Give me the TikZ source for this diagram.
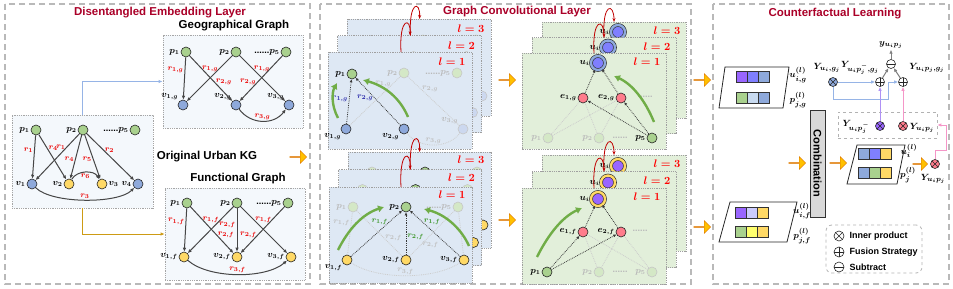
\documentclass[tikz,border=0pt]{standalone}
\usepackage{amsmath, amssymb}
\usepackage{fontspec}
\setmainfont{Liberation Sans}
\usetikzlibrary{positioning,arrows.meta,shapes.arrows}

\definecolor{titlered}{RGB}{170,0,40}
\definecolor{nodegreen}{RGB}{169,209,142}
\definecolor{nodeblue}{RGB}{142,169,219}
\definecolor{nodeyellow}{RGB}{255,217,102}
\definecolor{nodepink}{RGB}{255,124,140}
\definecolor{uipurple}{RGB}{153,102,255}
\definecolor{uiblue}{RGB}{127,127,255}
\definecolor{kgfill}{RGB}{244,248,252}
\definecolor{sheetblue}{RGB}{222,232,244}
\definecolor{sheetgreen}{RGB}{226,239,218}
\definecolor{arrowgold}{RGB}{255,192,0}
\definecolor{arrowgreen}{RGB}{112,173,71}
\definecolor{hopred}{RGB}{192,0,0}
\definecolor{labred}{RGB}{235,0,0}
\definecolor{labblue}{RGB}{40,40,170}
\definecolor{labgreen}{RGB}{60,150,40}
\definecolor{linkblue}{RGB}{150,180,230}
\definecolor{linkgold}{RGB}{205,155,20}
\definecolor{pinkline}{RGB}{245,150,200}
\definecolor{purpleline}{RGB}{175,145,245}
\definecolor{lavender}{RGB}{204,204,255}
\definecolor{paleblue}{RGB}{200,218,240}
\definecolor{paleyellow}{RGB}{255,255,110}

\newcommand{\embrow}[5]{\foreach \c [count=\i from 0] in {#3,#4,#5}
  \draw[cell, fill=\c] (#1+\i*11,#2) rectangle +(11,11);}

\tikzset{
  panel/.style={draw=gray!55, line width=1.3pt, dash pattern=on 6pt off 4pt},
  paneltitle/.style={font=\fontsize{11.5}{13}\selectfont\bfseries, text=titlered},
  subtitle/.style={font=\fontsize{11.5}{13}\selectfont\bfseries},
  kgbox/.style={draw=gray!70, densely dotted, line width=0.8pt, fill=kgfill},
  sheetb/.style={draw=gray!75, densely dotted, line width=0.8pt, fill=sheetblue},
  sheetg/.style={draw=gray!75, densely dotted, line width=0.8pt, fill=sheetgreen},
  vtx/.style={circle, draw=black!85, line width=0.6pt, minimum size=10pt, inner sep=0pt},
  gnode/.style={vtx, fill=nodegreen},
  bnode/.style={vtx, fill=nodeblue},
  ynode/.style={vtx, fill=nodeyellow},
  enode/.style={vtx, fill=nodepink},
  fgnode/.style={vtx, draw=gray!45, fill=nodegreen!50},
  fbnode/.style={vtx, draw=gray!45, fill=nodeblue!45},
  ugnode/.style={vtx, minimum size=14pt, fill=uiblue, double=nodeblue, double distance=2.4pt},
  ufnode/.style={vtx, minimum size=14pt, fill=uipurple, double=nodeyellow, double distance=2.4pt},
  lbl/.style={font=\fontsize{9}{10}\selectfont, inner sep=1pt},
  flbl/.style={lbl, text=gray!55},
  rlab/.style={font=\fontsize{8}{9}\selectfont, text=labred, inner sep=1pt},
  frlab/.style={rlab, text=gray!50},
  brlab/.style={rlab, text=labblue},
  grlab/.style={rlab, text=labgreen},
  lnum/.style={font=\fontsize{11}{12}\selectfont, text=red},
  kgedge/.style={draw=gray!55!black, line width=1pt, -{Latex[length=4pt,width=3.5pt]}},
  gcnedge/.style={draw=gray!45!black, densely dotted, line width=0.8pt, -{Latex[length=3pt,width=3pt]}},
  fgcnedge/.style={draw=gray!40, densely dotted, line width=0.8pt},
  flow/.style={arrowgreen, line width=2.4pt, -{Latex[length=6pt,width=7.5pt]}},
  hop/.style={hopred, line width=0.8pt, -{Stealth[length=4pt]}},
  blockarrow/.style={single arrow, draw=orange!85!black, fill=arrowgold, minimum height=17pt, minimum width=13pt, single arrow head extend=3pt, inner sep=0pt},
  opnode/.style={circle, draw=black!85, line width=0.6pt, minimum size=9pt, inner sep=0pt},
  otimesnode/.style={opnode, path picture={\draw[black!85, line width=0.5pt] (path picture bounding box.north west) -- (path picture bounding box.south east) (path picture bounding box.north east) -- (path picture bounding box.south west);}},
  oplusnode/.style={opnode, fill=white, path picture={\draw[black!85, line width=0.5pt] (path picture bounding box.north) -- (path picture bounding box.south) (path picture bounding box.east) -- (path picture bounding box.west);}},
  ominusnode/.style={opnode, fill=white, path picture={\draw[black!85, line width=0.5pt] (path picture bounding box.east) -- (path picture bounding box.west);}},
  cell/.style={draw=black!80, line width=0.6pt},
  embbox/.style={draw=black!85, line width=0.8pt, fill=white},
  combbox/.style={draw=black!80, fill=gray!30, line width=0.8pt, font=\fontsize{11}{12}\selectfont\bfseries},
  legendbox/.style={draw=gray!60, dashed, rounded corners=6pt, line width=0.8pt},
  cfbox/.style={draw=gray!60, dashed, line width=0.6pt},
  ylbl/.style={font=\fontsize{9.5}{10}\selectfont, inner sep=1pt},
  legtext/.style={font=\fontsize{9}{10}\selectfont\bfseries, inner sep=1pt},
  bluelink/.style={linkblue, line width=1pt, -{Latex[length=4pt,width=3.5pt]}},
  purplelink/.style={purpleline, line width=1pt, -{Latex[length=4pt,width=3.5pt]}},
  pinklink/.style={pinkline, line width=1pt, -{Latex[length=4pt,width=3.5pt]}},
  graylink/.style={gray, line width=1pt, -{Latex[length=4pt,width=3.5pt]}}
}

\begin{document}
\begin{tikzpicture}[x=1pt, y=-1pt]
  \useasboundingbox (0,0) rectangle (953,289);
  \draw[panel] (5,4) rectangle (310,284);
  \draw[panel] (320,4) rectangle (691,284);
  \draw[panel] (713,4) rectangle (949,284);

  % disentangled embedding layer
  \node[paneltitle] (ttl1) at (160,13) {Disentangled Embedding Layer};
  \node[subtitle] (ttlgeo) at (234,26) {Geographical Graph};
  \node[subtitle] (ttlkg) at (207,157) {Original Urban KG};
  \node[subtitle] (ttlfun) at (238,179) {Functional Graph};

  \node[kgbox, minimum width=141pt, minimum height=93pt] (kg) at (82.5,161.5) {};
  \node[kgbox, minimum width=140pt, minimum height=93pt] (geo) at (233,81.5) {};
  \node[kgbox, minimum width=140pt, minimum height=92pt] (fun) at (235,234) {};
  \draw[bluelink] (kg.north) |- (geo.west);
  \draw[linkgold, line width=1pt, -{Latex[length=4pt,width=3.5pt]}] (kg.south) |- (fun.west);

  \node[gnode, label={[lbl]left:$\boldsymbol{p_1}$}] (kp1) at (36,130) {};
  \node[gnode, label={[lbl]left:$\boldsymbol{p_2}$}] (kp2) at (83,130) {};
  \node[gnode, label={[lbl]left:{\textbf{......}$\boldsymbol{p_5}$}}] (kp5) at (135,130) {};
  \node[bnode, label={[lbl]left:$\boldsymbol{v_1}$}] (kv1) at (32,184) {};
  \node[ynode, label={[lbl]left:$\boldsymbol{v_2}$}] (kv2) at (69,184) {};
  \node[ynode, label={[lbl]right:$\boldsymbol{v_3}$}] (kv3) at (102,184) {};
  \node[bnode, label={[lbl]left:$\boldsymbol{v_4}$}] (kv4) at (138,184) {};
  \draw[kgedge] (kp1) -- node[rlab, pos=0.35, left] {$\boldsymbol{r_1}$} (kv1);
  \draw[kgedge] (kp1) -- node[rlab, pos=0.3, right] {$\boldsymbol{r_4}$} (kv2);
  \draw[kgedge] (kp2) -- node[rlab, pos=0.28, left] {$\boldsymbol{r_1}$} (kv1);
  \draw[kgedge] (kp2) -- node[rlab, pos=0.55, left] {$\boldsymbol{r_4}$} (kv2);
  \draw[kgedge] (kp2) -- node[rlab, pos=0.55, left] {$\boldsymbol{r_5}$} (kv3);
  \draw[kgedge] (kp2) -- node[rlab, pos=0.35, right] {$\boldsymbol{r_2}$} (kv4);
  \draw[kgedge] (kv2) .. controls +(8,-14) and +(-8,-14) .. node[rlab, below] {$\boldsymbol{r_6}$} (kv3);
  \draw[kgedge] (kv1) .. controls +(20,20) and +(-20,20) .. node[rlab, above] {$\boldsymbol{r_3}$} (kv4);

  \node[gnode, label={[lbl]left:$\boldsymbol{p_1}$}] (gp1) at (186,52) {};
  \node[gnode, label={[lbl]left:$\boldsymbol{p_2}$}] (gp2) at (236,52) {};
  \node[gnode, label={[lbl]left:{\textbf{......}$\boldsymbol{p_5}$}}] (gp5) at (286,52) {};
  \node[bnode, label={[lbl]above left:$\boldsymbol{v_{1,g}}$}] (gv1) at (183,105) {};
  \node[bnode, label={[lbl]above left:$\boldsymbol{v_{2,g}}$}] (gv2) at (236,105) {};
  \node[bnode, label={[lbl]above left:$\boldsymbol{v_{3,g}}$}] (gv3) at (289,105) {};
  \draw[kgedge] (gp1) -- node[rlab, pos=0.3, left] {$\boldsymbol{r_{1,g}}$} (gv1);
  \draw[kgedge] (gp1) -- node[rlab, pos=0.58, right] {$\boldsymbol{r_{2,g}}$} (gv2);
  \draw[kgedge] (gp2) -- node[rlab, pos=0.28, left] {$\boldsymbol{r_{1,g}}$} (gv1);
  \draw[kgedge] (gp2) -- node[rlab, pos=0.28, right] {$\boldsymbol{r_{1,g}}$} (gv3);
  \draw[kgedge] (gp5) -- node[rlab, pos=0.58, left] {$\boldsymbol{r_{2,g}}$} (gv2);
  \draw[kgedge] (gv2) .. controls +(15,20) and +(-15,20) .. node[rlab, above] {$\boldsymbol{r_{3,g}}$} (gv3);

  \node[gnode, label={[lbl]left:$\boldsymbol{p_1}$}] (fp1) at (187,203) {};
  \node[gnode, label={[lbl]left:$\boldsymbol{p_2}$}] (fp2) at (237,203) {};
  \node[gnode, label={[lbl]left:{\textbf{......}$\boldsymbol{p_5}$}}] (fp5) at (288,203) {};
  \node[ynode, label={[lbl]left:$\boldsymbol{v_{1,f}}$}] (fv1) at (184,257) {};
  \node[ynode, label={[lbl]left:$\boldsymbol{v_{2,f}}$}] (fv2) at (237,257) {};
  \node[ynode, label={[lbl]left:$\boldsymbol{v_{3,f}}$}] (fv3) at (291,257) {};
  \draw[kgedge] (fp1) -- node[rlab, pos=0.3, left] {$\boldsymbol{r_{1,f}}$} (fv1);
  \draw[kgedge] (fp1) -- node[rlab, pos=0.6, right] {$\boldsymbol{r_{2,f}}$} (fv2);
  \draw[kgedge] (fp2) -- node[rlab, pos=0.28, left] {$\boldsymbol{r_{1,f}}$} (fv1);
  \draw[kgedge] (fp2) -- node[rlab, pos=0.38, left] {$\boldsymbol{r_{2,f}}$} (fv2);
  \draw[kgedge] (fp2) -- node[rlab, pos=0.28, right] {$\boldsymbol{r_{1,f}}$} (fv3);
  \draw[kgedge] (fp5) -- node[rlab, pos=0.6, left] {$\boldsymbol{r_{2,f}}$} (fv2);
  \draw[kgedge] (fv1) .. controls +(25,22) and +(-25,22) .. node[rlab, above] {$\boldsymbol{r_{3,f}}$} (fv3);

  \node[blockarrow] (arrA) at (298,157) {};

  % graph convolutional layer
  \node[paneltitle] (ttl2) at (517,12) {Graph Convolutional Layer};

  \foreach \k/\lv in {2/3,1/2}{
    \begin{scope}[shift={(\k*9.5,-\k*16.5)}]
      \draw[sheetb] (328,52) rectangle (472,149);
      \node[lnum] (igl-\k) at (452,62) {$\boldsymbol{l=\lv}$};
      \node[gnode, label={[lbl]left:$\boldsymbol{p_1}$}] (igp1-\k) at (352,74) {};
      \node[fgnode] (igp2-\k) at (404,73) {};
      \node[fgnode] (igp5-\k) at (457,73) {};
      \node[fbnode] (igv3-\k) at (463,129) {};
    \end{scope}}
  \draw[sheetb] (328,52) rectangle (472,149);
  \node[lnum] (igl) at (452,62) {$\boldsymbol{l=1}$};
  \node[gnode, label={[lbl]left:$\boldsymbol{p_1}$}] (igp1) at (352,74) {};
  \node[fgnode, label={[flbl]left:$\boldsymbol{p_2}$}] (igp2) at (404,73) {};
  \node[fgnode, label={[flbl]left:{\textbf{......}$\boldsymbol{p_5}$}}] (igp5) at (457,73) {};
  \node[bnode, label={[lbl]below left:$\boldsymbol{v_{1,g}}$}] (igv1) at (346,129) {};
  \node[bnode, label={[lbl]below left:$\boldsymbol{v_{2,g}}$}] (igv2) at (404,129) {};
  \node[fbnode, label={[flbl]above left:$\boldsymbol{v_{3,g}}$}] (igv3) at (463,129) {};
  \draw[fgcnedge] (igv1) -- node[frlab, pos=0.85, left] {$\boldsymbol{r_{1,g}}$} (igp2);
  \draw[fgcnedge] (igp2) -- node[frlab, pos=0.25, right] {$\boldsymbol{r_{2,g}}$} (igv3);
  \draw[fgcnedge] (igv2) .. controls +(15,20) and +(-15,20) .. node[frlab, above] {$\boldsymbol{r_{3,g}}$} (igv3);
  \draw[gcnedge] (igv1) -- node[brlab, pos=0.56, left] {$\boldsymbol{r_{1,g}}$} (igp1);
  \draw[gcnedge] (igv2) -- node[brlab, pos=0.58, left] {$\boldsymbol{r_{2,g}}$} (igp1);
  \draw[flow] (338,118) .. controls (331,105) and (332,92) .. (337,83);
  \draw[flow] (408,117) .. controls (400,98) and (385,86) .. (363,80);

  \foreach \k/\lv in {2/3,1/2}{
    \begin{scope}[shift={(\k*9.5,-\k*17.5)}]
      \draw[sheetb] (329,187) rectangle (472,283);
      \node[lnum] (ifl-\k) at (452,195) {$\boldsymbol{l=\lv}$};
      \node[fgnode] (ifp1-\k) at (353,207) {};
      \node[gnode] (ifp2-\k) at (406,207) {};
      \node[fgnode] (ifp5-\k) at (458,207) {};
      \node[ynode] (ifv3-\k) at (464,260) {};
    \end{scope}}
  \draw[sheetb] (329,187) rectangle (472,283);
  \node[lnum] (ifl) at (452,195) {$\boldsymbol{l=1}$};
  \node[fgnode, label={[flbl]left:$\boldsymbol{p_1}$}] (ifp1) at (353,207) {};
  \node[gnode, label={[lbl]left:$\boldsymbol{p_2}$}] (ifp2) at (406,207) {};
  \node[fgnode, label={[flbl]left:{\textbf{......}$\boldsymbol{p_5}$}}] (ifp5) at (458,207) {};
  \node[ynode, label={[lbl]below left:$\boldsymbol{v_{1,f}}$}] (ifv1) at (347,260) {};
  \node[ynode, label={[lbl]left:$\boldsymbol{v_{2,f}}$}] (ifv2) at (406,260) {};
  \node[ynode, label={[lbl]left:$\boldsymbol{v_{3,f}}$}] (ifv3) at (464,260) {};
  \draw[fgcnedge] (ifv1) -- node[frlab, pos=0.75, left] {$\boldsymbol{r_{1,f}}$} (ifp1);
  \draw[fgcnedge] (ifp1) -- node[frlab, pos=0.6, right] {$\boldsymbol{r_{2,f}}$} (ifv2);
  \draw[fgcnedge] (ifp5) -- node[frlab, pos=0.75, right] {$\boldsymbol{r_{2,f}}$} (ifv2);
  \draw[fgcnedge] (ifv3) -- (ifp5);
  \draw[fgcnedge] (ifv1) .. controls +(30,20) and +(-30,20) .. node[frlab, above] {$\boldsymbol{r_{3,f}}$} (ifv3);
  \draw[gcnedge] (ifv1) -- node[grlab, pos=0.75, left] {$\boldsymbol{r_{1,f}}$} (ifp2);
  \draw[gcnedge] (ifv2) -- node[grlab, pos=0.43, right] {$\boldsymbol{r_{2,f}}$} (ifp2);
  \draw[gcnedge] (ifv3) -- node[grlab, pos=0.75, right] {$\boldsymbol{r_{1,f}}$} (ifp2);
  \draw[flow] (338,250) .. controls (348,230) and (362,214) .. (384,207);
  \draw[flow] (469,246) .. controls (462,230) and (447,215) .. (424,209);

  \foreach \k/\lv in {2/3,1/2}{
    \begin{scope}[shift={(\k*10,-\k*15.5)}]
      \draw[sheetg] (522,53) rectangle (666,149);
      \node[lnum] (ugl-\k) at (647,62) {$\boldsymbol{l=\lv}$};
      \node[ugnode, label={[lbl]left:$\boldsymbol{u_i}$}] (ugu-\k) at (598,63) {};
    \end{scope}}
  \draw[sheetg] (522,53) rectangle (666,149);
  \node[lnum] (ugl) at (647,62) {$\boldsymbol{l=1}$};
  \node[ugnode, label={[lbl]left:$\boldsymbol{u_i}$}] (ugu) at (598,63) {};
  \node[enode, label={[lbl]left:$\boldsymbol{e_{1,g}}$}] (uge1) at (583,98) {};
  \node[enode, label={[lbl]left:$\boldsymbol{e_{2,g}}$}] (uge2) at (621,98) {};
  \node[flbl] (ugdots) at (645,97) {\textbf{......}};
  \node[fgnode, label={[flbl]left:$\boldsymbol{p_1}$}] (ugp1) at (548,138) {};
  \node[fgnode, label={[flbl]left:$\boldsymbol{p_2}$}] (ugp2) at (599,138) {};
  \node[flbl] (ugdots2) at (620,138) {\textbf{......}};
  \node[gnode, label={[lbl]left:$\boldsymbol{p_5}$}] (ugp5) at (652,138) {};
  \draw[fgcnedge] (ugp1) -- (uge1);
  \draw[fgcnedge] (ugp1) -- (uge2);
  \draw[fgcnedge] (ugp2) -- (uge1);
  \draw[fgcnedge] (ugp2) -- (uge2);
  \draw[gcnedge] (ugp5) -- (uge1);
  \draw[gcnedge] (ugp5) -- (uge2);
  \draw[gcnedge] (uge1) -- (ugu);
  \draw[gcnedge] (uge2) -- (ugu);
  \draw[flow] (654,122) .. controls (645,100) and (632,84) .. (614,76);

  \foreach \k/\lv in {2/3,1/2}{
    \begin{scope}[shift={(\k*10,-\k*16.5)}]
      \draw[sheetg] (522,188) rectangle (666,284);
      \node[lnum] (ufl-\k) at (647,197) {$\boldsymbol{l=\lv}$};
      \node[ufnode, label={[lbl]left:$\boldsymbol{u_i}$}] (ufu-\k) at (598,199) {};
    \end{scope}}
  \draw[sheetg] (522,188) rectangle (666,284);
  \node[lnum] (ufl) at (647,197) {$\boldsymbol{l=1}$};
  \node[ufnode, label={[lbl]left:$\boldsymbol{u_i}$}] (ufu) at (598,199) {};
  \node[enode, label={[lbl]left:$\boldsymbol{e_{1,f}}$}] (ufe1) at (583,232) {};
  \node[enode, label={[lbl]left:$\boldsymbol{e_{2,f}}$}] (ufe2) at (621,232) {};
  \node[flbl] (ufdots) at (640,231) {\textbf{......}};
  \node[gnode, label={[lbl]left:$\boldsymbol{p_1}$}] (ufp1) at (547,272) {};
  \node[fgnode, label={[flbl]left:$\boldsymbol{p_2}$}] (ufp2) at (599,272) {};
  \node[flbl] (ufdots2) at (620,272) {\textbf{......}};
  \node[fgnode, label={[flbl]left:$\boldsymbol{p_5}$}] (ufp5) at (652,272) {};
  \draw[fgcnedge] (ufp2) -- (ufe1);
  \draw[fgcnedge] (ufp2) -- (ufe2);
  \draw[fgcnedge] (ufp5) -- (ufe1);
  \draw[fgcnedge] (ufp5) -- (ufe2);
  \draw[gcnedge] (ufp1) -- (ufe1);
  \draw[gcnedge] (ufp1) -- (ufe2);
  \draw[gcnedge] (ufe1) -- (ufu);
  \draw[gcnedge] (ufe2) -- (ufu);
  \draw[flow] (537,257) .. controls (548,235) and (562,217) .. (582,208);

  \foreach \k in {0,1}{
    \begin{scope}[shift={(\k*9.5,-\k*16.5)}]
      \draw[hop] (401,52) .. controls (399,17) and (411,17) .. (410,35.5);
    \end{scope}
    \begin{scope}[shift={(\k*9.5,-\k*17.5)}]
      \draw[hop] (401,187) .. controls (399,150) and (411,150) .. (410,169.5);
    \end{scope}
    \begin{scope}[shift={(\k*10,-\k*15.5)}]
      \draw[hop] (594,53) .. controls (592,18) and (604,18) .. (604,37.5);
    \end{scope}
    \begin{scope}[shift={(\k*10,-\k*16.5)}]
      \draw[hop] (594,188) .. controls (592,152) and (604,152) .. (604,171.5);
    \end{scope}}

  \node[blockarrow] (arrB) at (507,80) {};
  \node[blockarrow] (arrC) at (507,220) {};
  \node[blockarrow] (arrD) at (702,80) {};
  \node[blockarrow] (arrE) at (702,227) {};

  % counterfactual learning
  \node[paneltitle] (ttl3) at (835,14) {Counterfactual Learning};

  \draw[embbox] (725,67) -- (789,67) -- (783,108) -- (719,108) -- cycle;
  \embrow{736}{71}{uipurple}{uiblue}{nodeblue}
  \embrow{736}{92}{nodegreen}{paleblue}{nodeblue}
  \node[ylbl] (ugemb) at (798,75) {$\boldsymbol{u^{(l)}_{i,g}}$};
  \node[ylbl] (pgemb) at (798,100) {$\boldsymbol{p^{(l)}_{j,g}}$};

  \draw[embbox] (730,202) -- (797,202) -- (787,242) -- (719,242) -- cycle;
  \embrow{735}{207}{uipurple}{lavender}{nodeyellow}
  \embrow{735}{226}{nodegreen}{paleyellow}{nodeyellow}
  \node[ylbl] (ufemb) at (802,211) {$\boldsymbol{u^{(l)}_{i,f}}$};
  \node[ylbl] (pfemb) at (802,236) {$\boldsymbol{p^{(l)}_{j,f}}$};

  \node[combbox, minimum width=107pt, minimum height=15pt, rotate=-90] (comb) at (817.5,163.5) {Combination};
  \node[blockarrow] (arrF) at (797,163) {};
  \node[blockarrow] (arrG) at (838,163) {};

  \draw[embbox] (857,145) -- (905,145) -- (897,184) -- (847,184) -- cycle;
  \embrow{858}{148}{nodeblue}{uiblue}{nodeyellow}
  \embrow{858}{167}{nodeblue}{nodegreen}{nodeyellow}
  \node[ylbl] (uemb) at (909,151) {$\boldsymbol{u^{(l)}_{i}}$};
  \node[ylbl] (pemb) at (908,175) {$\boldsymbol{p^{(l)}_{j}}$};
  \node[blockarrow, minimum height=15pt] (arrH) at (920,164) {};
  \node[otimesnode, fill=nodepink] (ytot) at (935,164) {};
  \node[ylbl] (ytotl) at (933,179) {$\boldsymbol{Y_{u_ip_j}}$};

  \node[otimesnode, fill=nodeblue] (yg) at (833,82) {};
  \node[ylbl] (ygl) at (827,68) {$\boldsymbol{Y_{u_i,g_j}}$};
  \node[ylbl] (ynegl) at (860,68) {$\boldsymbol{Y_{u_ip_j^-,g_j}}$};
  \node[oplusnode] (fus1) at (880,82) {};
  \node[oplusnode] (fus2) at (903,82) {};
  \node[ominusnode] (sub) at (891,64) {};
  \node[ylbl] (yout) at (891,45) {$\boldsymbol{y_{u_ip_j}}$};
  \node[ylbl] (yposl) at (927,68) {$\boldsymbol{Y_{u_ip_j,g_j}}$};
  \coordinate (bturn) at (888,99);
  \draw[bluelink] (yg) -- (fus1);
  \draw[bluelink] (yg.south) |- (bturn) |- (fus2.west);
  \draw[graylink] (fus1) -- (sub);
  \draw[graylink] (fus2) -- (sub);
  \draw[graylink] (sub) -- (yout);

  \node[cfbox, minimum width=99pt, minimum height=26pt] (cfb) at (887.5,125) {};
  \node[otimesnode, fill=uipurple] (yneg) at (880,126) {};
  \node[otimesnode, fill=nodepink] (ypos) at (903,126) {};
  \node[ylbl] (ynegb) at (856,127) {$\boldsymbol{Y_{u_ip_j^-}}$};
  \node[ylbl] (yposb) at (922,128) {$\boldsymbol{Y_{u_ip_j}}$};
  \draw[purplelink] (yneg) -- (fus1);
  \draw[pinklink] (ypos) -- (fus2);
  \coordinate (pturn) at (946,150);
  \draw[pinklink] (ytot.north) |- (pturn) |- (cfb.east);

  \node[legendbox, minimum width=96pt, minimum height=48pt] (legend) at (874,249) {};
  \node[otimesnode, minimum size=10pt] (lg1) at (839,236) {};
  \node[oplusnode, minimum size=10pt] (lg2) at (839,252) {};
  \node[ominusnode, minimum size=10pt] (lg3) at (839,267) {};
  \node[legtext, right=4pt of lg1] (lgt1) {Inner product};
  \node[legtext, right=4pt of lg2] (lgt2) {Fusion Strategy};
  \node[legtext, right=4pt of lg3] (lgt3) {Subtract};
\end{tikzpicture}
\end{document}
